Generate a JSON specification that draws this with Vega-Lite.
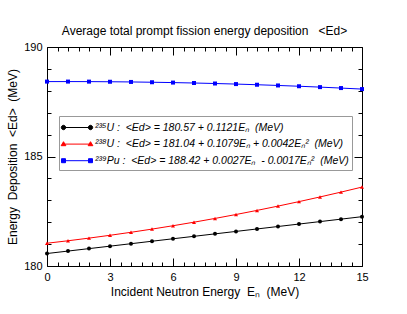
{
 "$schema": "https://vega.github.io/schema/vega-lite/v6.json",
 "width": 315,
 "height": 219,
 "autosize": {"type": "none"},
 "padding": {"left": 47, "top": 47, "right": 45, "bottom": 48},
 "title": {"text": "Average total prompt fission energy deposition\u00a0\u00a0\u00a0<Ed>", "fontSize": 12, "fontWeight": "normal", "font": "Liberation Sans", "color": "black", "offset": 3, "anchor": "middle"},
 "config": {
  "view": {"stroke": "black", "strokeWidth": 1},
  "font": "Liberation Sans",
  "axis": {"domain": false, "grid": false, "tickColor": "black", "labelColor": "black", "titleColor": "black", "labelFontSize": 11, "titleFontSize": 12, "titleFontWeight": "normal", "labelFont": "Liberation Sans", "titleFont": "Liberation Sans"}
 },
 "data": {"values": [
  {"iso": "U235", "En": 0, "Ed": 180.57}, {"iso": "U235", "En": 1, "Ed": 180.682}, {"iso": "U235", "En": 2, "Ed": 180.794}, {"iso": "U235", "En": 3, "Ed": 180.906}, {"iso": "U235", "En": 4, "Ed": 181.018}, {"iso": "U235", "En": 5, "Ed": 181.131}, {"iso": "U235", "En": 6, "Ed": 181.243}, {"iso": "U235", "En": 7, "Ed": 181.355}, {"iso": "U235", "En": 8, "Ed": 181.467}, {"iso": "U235", "En": 9, "Ed": 181.579}, {"iso": "U235", "En": 10, "Ed": 181.691}, {"iso": "U235", "En": 11, "Ed": 181.803}, {"iso": "U235", "En": 12, "Ed": 181.915}, {"iso": "U235", "En": 13, "Ed": 182.027}, {"iso": "U235", "En": 14, "Ed": 182.139}, {"iso": "U235", "En": 15, "Ed": 182.252},
  {"iso": "U238", "En": 0, "Ed": 181.04}, {"iso": "U238", "En": 1, "Ed": 181.152}, {"iso": "U238", "En": 2, "Ed": 181.273}, {"iso": "U238", "En": 3, "Ed": 181.402}, {"iso": "U238", "En": 4, "Ed": 181.539}, {"iso": "U238", "En": 5, "Ed": 181.685}, {"iso": "U238", "En": 6, "Ed": 181.839}, {"iso": "U238", "En": 7, "Ed": 182.001}, {"iso": "U238", "En": 8, "Ed": 182.172}, {"iso": "U238", "En": 9, "Ed": 182.351}, {"iso": "U238", "En": 10, "Ed": 182.539}, {"iso": "U238", "En": 11, "Ed": 182.735}, {"iso": "U238", "En": 12, "Ed": 182.94}, {"iso": "U238", "En": 13, "Ed": 183.153}, {"iso": "U238", "En": 14, "Ed": 183.374}, {"iso": "U238", "En": 15, "Ed": 183.604},
  {"iso": "Pu239", "En": 0, "Ed": 188.42}, {"iso": "Pu239", "En": 1, "Ed": 188.421}, {"iso": "Pu239", "En": 2, "Ed": 188.419}, {"iso": "Pu239", "En": 3, "Ed": 188.413}, {"iso": "Pu239", "En": 4, "Ed": 188.404}, {"iso": "Pu239", "En": 5, "Ed": 188.391}, {"iso": "Pu239", "En": 6, "Ed": 188.375}, {"iso": "Pu239", "En": 7, "Ed": 188.356}, {"iso": "Pu239", "En": 8, "Ed": 188.333}, {"iso": "Pu239", "En": 9, "Ed": 188.307}, {"iso": "Pu239", "En": 10, "Ed": 188.277}, {"iso": "Pu239", "En": 11, "Ed": 188.244}, {"iso": "Pu239", "En": 12, "Ed": 188.208}, {"iso": "Pu239", "En": 13, "Ed": 188.168}, {"iso": "Pu239", "En": 14, "Ed": 188.125}, {"iso": "Pu239", "En": 15, "Ed": 188.078}
 ]},
 "layer": [
  {
   "mark": {"type": "line", "strokeWidth": 1},
   "encoding": {
    "x": {"field": "En", "type": "quantitative", "scale": {"domain": [0, 15], "nice": false, "zero": false},
          "axis": {"orient": "bottom", "values": [0, 3, 6, 9, 12, 15], "tickSize": -8, "labelPadding": 13, "labelFlush": false, "title": "Incident Neutron Energy\u00a0\u00a0Eₙ\u00a0\u00a0(MeV)", "titlePadding": 4}},
    "y": {"field": "Ed", "type": "quantitative", "scale": {"domain": [180, 190], "nice": false, "zero": false},
          "axis": {"orient": "left", "values": [180, 185, 190], "tickSize": -8, "labelPadding": 13, "labelFlush": false, "title": "Energy\u00a0\u00a0Deposition\u00a0\u00a0<Ed>\u00a0\u00a0(MeV)", "titlePadding": 4}},
    "color": {"field": "iso", "type": "nominal", "sort": ["U235", "U238", "Pu239"],
      "scale": {"domain": ["U235", "U238", "Pu239"], "range": ["black", "red", "blue"]},
      "legend": {
       "orient": "none", "legendX": 12, "legendY": 69, "title": null,
       "labelExpr": "datum.value === 'U235' ? '²³⁵U :\u00a0 <Ed> = 180.57 + 0.1121Eₙ\u00a0 (MeV)' : datum.value === 'U238' ? '²³⁸U :\u00a0 <Ed> = 181.04 + 0.1079Eₙ + 0.0042Eₙ²\u00a0 (MeV)' : '²³⁹Pu :\u00a0 <Ed> = 188.42 + 0.0027Eₙ\u00a0 - 0.0017Eₙ²\u00a0 (MeV)'",
       "labelFontStyle": "italic", "labelFontSize": 10.5, "labelColor": "black", "labelFont": "Liberation Sans", "labelLimit": 400,
       "strokeColor": "#999999", "fillColor": "white", "padding": 3,
       "symbolSize": 256, "rowPadding": 2.6, "labelOffset": 16,
       "encode": {"symbols": {"update": {
         "shape": {"signal": "datum.value === 'U235' ? 'M-0.875,0H2.5M-1.15,0a0.275,0.275 0 1,0 0.55,0a0.275,0.275 0 1,0 -0.55,0M2.225,0a0.275,0.275 0 1,0 0.55,0a0.275,0.275 0 1,0 -0.55,0' : datum.value === 'U238' ? 'M-0.875,0H2.5M-0.875,-0.3L-0.58,0.2L-1.17,0.2ZM2.5,-0.3L2.795,0.2L2.205,0.2Z' : 'M-0.875,0H2.5M-1.125,-0.25H-0.625V0.25H-1.125ZM2.25,-0.25H2.75V0.25H2.25Z'"},
         "fill": {"scale": "color", "field": "value"},
         "stroke": {"scale": "color", "field": "value"},
         "strokeWidth": {"value": 1},
         "opacity": {"value": 1}
       }}}
      }}
   }
  },
  {
   "mark": {"type": "point", "filled": true, "size": 16, "opacity": 1},
   "encoding": {
    "x": {"field": "En", "type": "quantitative", "axis": {"orient": "bottom", "values": [0.5, 1, 1.5, 2, 2.5, 3.5, 4, 4.5, 5, 5.5, 6.5, 7, 7.5, 8, 8.5, 9.5, 10, 10.5, 11, 11.5, 12.5, 13, 13.5, 14, 14.5], "tickSize": -4, "labels": false, "title": null}},
    "y": {"field": "Ed", "type": "quantitative", "axis": {"orient": "left", "values": [181, 182, 183, 184, 186, 187, 188, 189], "tickSize": -4, "labels": false, "title": null}},
    "color": {"condition": [{"test": "datum.iso === 'U238'", "value": "red"}, {"test": "datum.iso === 'Pu239'", "value": "blue"}], "value": "black"},
    "shape": {"condition": [{"test": "datum.iso === 'U238'", "value": "triangle-up"}, {"test": "datum.iso === 'Pu239'", "value": "square"}], "value": "circle"}
   }
  },
  {
   "mark": {"type": "point", "opacity": 0},
   "encoding": {
    "x": {"field": "En", "type": "quantitative", "axis": {"orient": "top", "values": [0, 3, 6, 9, 12, 15], "tickSize": -8, "labels": false, "title": null}},
    "y": {"field": "Ed", "type": "quantitative", "axis": {"orient": "right", "values": [180, 185, 190], "tickSize": -8, "labels": false, "title": null}}
   }
  },
  {
   "mark": {"type": "point", "opacity": 0},
   "encoding": {
    "x": {"field": "En", "type": "quantitative", "axis": {"orient": "top", "values": [0.5, 1, 1.5, 2, 2.5, 3.5, 4, 4.5, 5, 5.5, 6.5, 7, 7.5, 8, 8.5, 9.5, 10, 10.5, 11, 11.5, 12.5, 13, 13.5, 14, 14.5], "tickSize": -4, "labels": false, "title": null}},
    "y": {"field": "Ed", "type": "quantitative", "axis": {"orient": "right", "values": [181, 182, 183, 184, 186, 187, 188, 189], "tickSize": -4, "labels": false, "title": null}}
   }
  }
 ],
 "resolve": {"axis": {"x": "independent", "y": "independent"}}
}
